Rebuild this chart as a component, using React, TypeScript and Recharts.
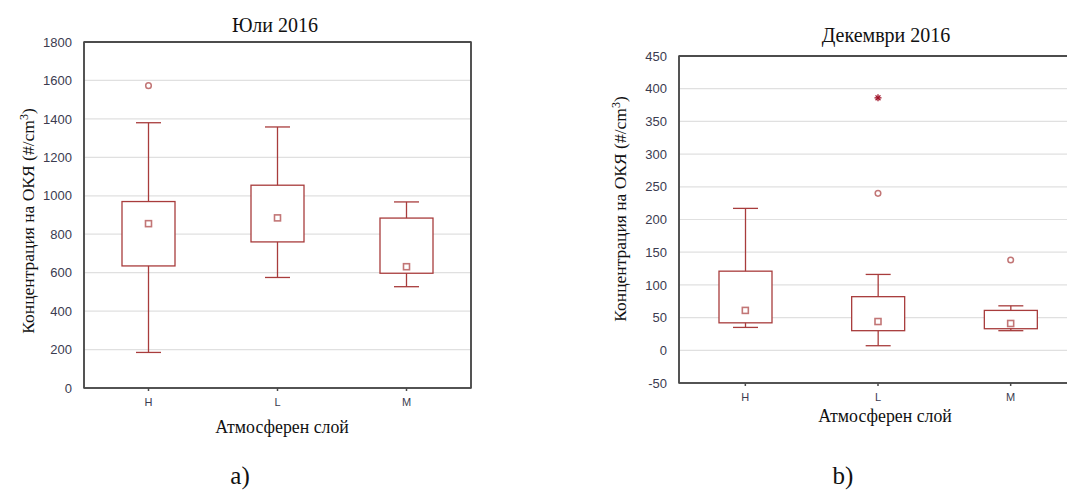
import React from 'react';
import { ComposedChart, Bar, Scatter, XAxis, YAxis, CartesianGrid, ReferenceLine, ReferenceArea } from 'recharts';

// Атмосферни слоеве
const layers = ['H', 'L', 'M'];

// Юли 2016
const julyMin = [185, 575, 527];
const julyQ1 = [635, 760, 597];
const julyMedian = [855, 885, 631];
const julyQ3 = [970, 1055, 884];
const julyMax = [1380, 1358, 968];
const julyOutlier = [1573, null, null];
const julyExtreme = [null, null, null];
const julyTicks = [0, 200, 400, 600, 800, 1000, 1200, 1400, 1600, 1800];

// Декември 2016
const decMin = [35, 7, 30];
const decQ1 = [42, 30, 33];
const decMedian = [61, 44, 41];
const decQ3 = [121, 82, 61];
const decMax = [217, 116, 68];
const decOutlier = [null, 240, 138];
const decExtreme = [null, 386, null];
const decTicks = [-50, 0, 50, 100, 150, 200, 250, 300, 350, 400, 450];

const LINE = '#a83c3c';
const MARK = '#c27676';
const STAR = '#a0142a';
const AXIS = '#4a4a4a';
const SERIF = '"Liberation Serif", "Times New Roman", serif';
const SANS = '"Liberation Sans", Arial, sans-serif';

type Row = {
  cat: string;
  whisker: [number, number];
  box: [number, number];
  median: number;
  outlier: number | null;
  extreme: number | null;
};

const buildRows = (
  min: number[], q1: number[], med: number[], q3: number[], max: number[],
  outlier: (number | null)[], extreme: (number | null)[],
): Row[] =>
  layers.map((cat, i) => ({
    cat,
    whisker: [min[i], max[i]],
    box: [q1[i], q3[i]],
    median: med[i],
    outlier: outlier[i],
    extreme: extreme[i],
  }));

const julyRows = buildRows(julyMin, julyQ1, julyMedian, julyQ3, julyMax, julyOutlier, julyExtreme);
const decRows = buildRows(decMin, decQ1, decMedian, decQ3, decMax, decOutlier, decExtreme);

const WhiskerShape = (p: any) => {
  const { x, y, width, height } = p;
  const cx = x + width / 2;
  const cap = 12.5;
  return (
    <g stroke={LINE} strokeWidth={1.3} fill="none">
      <line x1={cx} x2={cx} y1={y} y2={y + height} />
      <line x1={cx - cap} x2={cx + cap} y1={y} y2={y} />
      <line x1={cx - cap} x2={cx + cap} y1={y + height} y2={y + height} />
    </g>
  );
};

const BoxShape = (p: any) => {
  const { x, y, width, height } = p;
  return <rect x={x} y={y} width={width} height={height} fill="#fff" stroke={LINE} strokeWidth={1.3} />;
};

const MedianShape = (p: any) => {
  const { cx, cy, payload } = p;
  if (payload?.median == null || cy == null) return <g />;
  return <rect x={cx - 3} y={cy - 3} width={6} height={6} fill="#fff" stroke={MARK} strokeWidth={1.6} />;
};

const OutlierShape = (p: any) => {
  const { cx, cy, payload } = p;
  if (payload?.outlier == null || cy == null) return <g />;
  return <circle cx={cx} cy={cy} r={2.8} fill="#fff" stroke={MARK} strokeWidth={1.5} />;
};

const ExtremeShape = (p: any) => {
  const { cx, cy, payload } = p;
  if (payload?.extreme == null || cy == null) return <g />;
  const r = 3.5;
  return (
    <g stroke={STAR} strokeWidth={1.3}>
      <line x1={cx - r} x2={cx + r} y1={cy} y2={cy} />
      <line x1={cx} x2={cx} y1={cy - r} y2={cy + r} />
      <line x1={cx - r * 0.7} x2={cx + r * 0.7} y1={cy - r * 0.7} y2={cy + r * 0.7} />
      <line x1={cx - r * 0.7} x2={cx + r * 0.7} y1={cy + r * 0.7} y2={cy - r * 0.7} />
    </g>
  );
};

// frame lines along the top and right edges of the plot area
const topEdge = ({ offset }: any) => [offset.top];
const rightEdge = ({ offset }: any) => [offset.left + offset.width];

type PanelProps = {
  rows: Row[];
  ticks: number[];
  width: number;
  margin: { top: number; right: number; left: number; bottom: number };
};

const BoxPanel = ({ rows, ticks, width, margin }: PanelProps) => {
  const lo = ticks[0];
  const hi = ticks[ticks.length - 1];
  return (
    <ComposedChart width={width} height={491} data={rows} margin={margin} barGap={-53}>
      <CartesianGrid vertical={false} stroke="#e0e0e0" strokeWidth={1.2} />
      <CartesianGrid vertical={false} horizontalCoordinatesGenerator={topEdge} stroke={AXIS} strokeWidth={1.5} />
      <CartesianGrid horizontal={false} verticalCoordinatesGenerator={rightEdge} stroke={AXIS} strokeWidth={1.5} />
      <XAxis
        dataKey="cat"
        stroke={AXIS}
        strokeWidth={1.5}
        tickSize={3}
        tickMargin={7}
        height={30}
        tick={{ fill: '#3b3b4f', fontSize: 11, fontFamily: SANS }}
      />
      <YAxis
        domain={[lo, hi]}
        ticks={ticks}
        width={50}
        stroke={AXIS}
        strokeWidth={1.5}
        tickLine={false}
        tickMargin={6}
        tick={{ fill: '#3b3b4f', fontSize: 13, fontFamily: SANS }}
      />
      {/* plot frame */}
      <ReferenceArea y1={lo} y2={hi} fill="none" fillOpacity={0} stroke={AXIS} strokeWidth={1.5} ifOverflow="visible" />
      <ReferenceLine y={hi} stroke={AXIS} strokeWidth={1.5} ifOverflow="visible" />
      <Bar dataKey="whisker" barSize={53} shape={WhiskerShape} isAnimationActive={false} />
      <Bar dataKey="box" barSize={53} shape={BoxShape} isAnimationActive={false} />
      <Scatter dataKey="median" shape={MedianShape} isAnimationActive={false} />
      <Scatter dataKey="outlier" shape={OutlierShape} isAnimationActive={false} />
      <Scatter dataKey="extreme" shape={ExtremeShape} isAnimationActive={false} />
    </ComposedChart>
  );
};

const abs = (style: React.CSSProperties): React.CSSProperties => ({ position: 'absolute', whiteSpace: 'nowrap', ...style });

const YTitle = ({ left, top }: { left: number; top: number }) => (
  <div style={abs({ left, top, fontSize: 17.5, transform: 'translate(-50%, -50%) rotate(-90deg)' })}>
    Концентрация на ОКЯ (#/cm<sup style={{ fontSize: 12 }}>3</sup>)
  </div>
);

const Centered = ({ left, top, size, children }: { left: number; top: number; size: number; children: React.ReactNode }) => (
  <div style={abs({ left, top, fontSize: size, lineHeight: 1, transform: 'translate(-50%, -50%)' })}>{children}</div>
);

export default function App() {
  return (
    <div style={{ position: 'absolute', left: 0, top: 0, width: 1067, height: 491, overflow: 'hidden', background: '#fff', fontFamily: SERIF, color: '#111' }}>
      <Centered left={275} top={25} size={20}>Юли 2016</Centered>
      <Centered left={886} top={35} size={20}>Декември 2016</Centered>
      <YTitle left={28} top={221} />
      <YTitle left={620} top={209} />
      <Centered left={282} top={428} size={17.8}>Атмосферен слой</Centered>
      <Centered left={885} top={417} size={17.8}>Атмосферен слой</Centered>
      <Centered left={240} top={475} size={25}>a)</Centered>
      <Centered left={843} top={475} size={25}>b)</Centered>

      <div style={abs({ left: 0, top: 0, width: 480, height: 491 })}>
        <BoxPanel rows={julyRows} ticks={julyTicks} width={480} margin={{ top: 42, right: 9, left: 34, bottom: 73 }} />
      </div>
      <div style={abs({ left: 590, top: 0, width: 500, height: 491 })}>
        <BoxPanel rows={decRows} ticks={decTicks} width={500} margin={{ top: 56, right: 13, left: 39, bottom: 78 }} />
      </div>
    </div>
  );
}
